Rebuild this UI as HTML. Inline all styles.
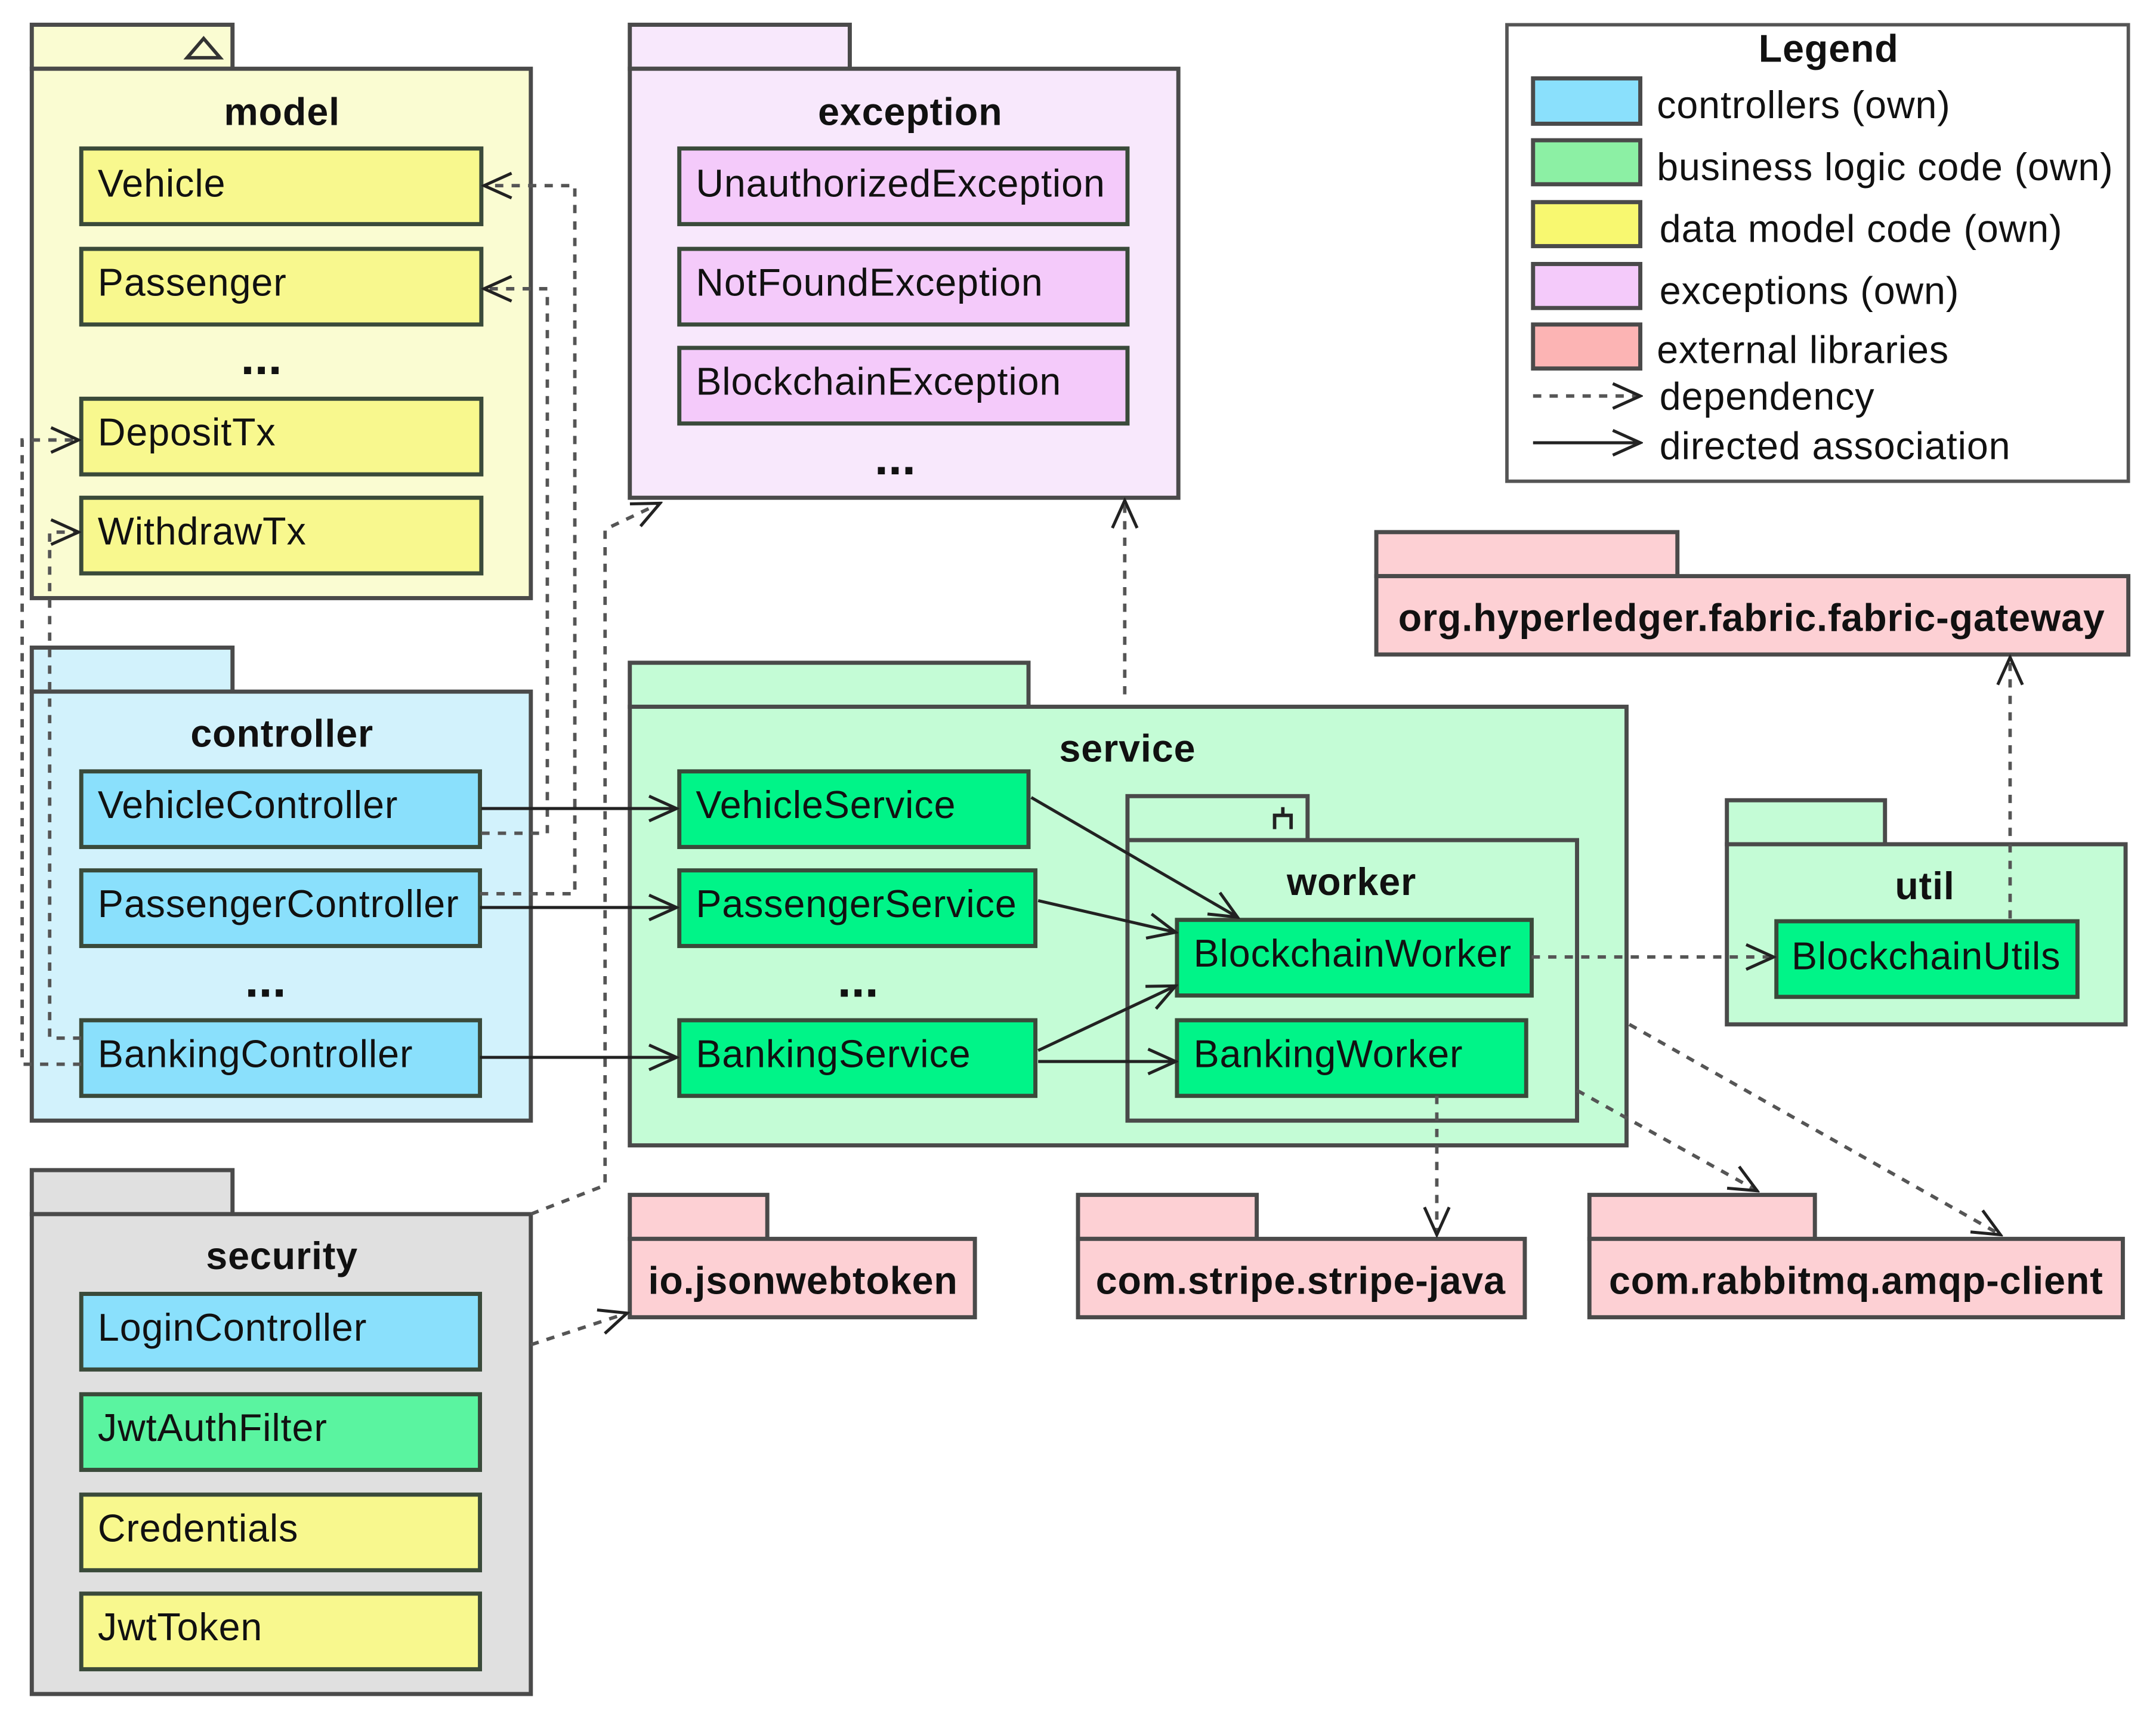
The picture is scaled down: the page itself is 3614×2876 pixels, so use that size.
<!DOCTYPE html>
<html><head><meta charset="utf-8"><style>
html,body{margin:0;padding:0;background:#fff;width:3614px;height:2876px;overflow:hidden}
svg{display:block}
text{font-family:"Liberation Sans",sans-serif;fill:#111}
.t{font-size:28px;letter-spacing:0.4px}
.b{font-size:28px;font-weight:bold;letter-spacing:0.4px}
.e{font-size:36px;font-weight:bold}
.pk{stroke:#4a4a4a;stroke-width:3}
.cl{stroke:#3a4a3a;stroke-width:3}
.d{fill:none;stroke:#555;stroke-width:2.5;stroke-dasharray:6 6}
.s{fill:none;stroke:#222;stroke-width:2.2}
</style></head><body>
<svg width="3614" height="2876" viewBox="0 0 1568 1248" xmlns="http://www.w3.org/2000/svg">
<defs>
<marker id="a" markerWidth="24" markerHeight="24" refX="22" refY="12" orient="auto" markerUnits="userSpaceOnUse">
<polyline points="2,3 22,12 2,21" fill="none" stroke="#222" stroke-width="2.2"/>
</marker>
</defs>

<!-- model -->
<rect class="pk" x="23" y="18" width="146" height="32" fill="#fafcd2"/>
<rect class="pk" x="23" y="50" width="363" height="385" fill="#fafcd2"/>
<polygon points="136,42 148,28 160,42" fill="none" stroke="#333" stroke-width="2.5"/>
<text class="b" x="205" y="91" text-anchor="middle">model</text>
<g fill="#f8f88e">
<rect class="cl" x="59" y="108" width="291" height="55"/>
<rect class="cl" x="59" y="181" width="291" height="55"/>
<rect class="cl" x="59" y="290" width="291" height="55"/>
<rect class="cl" x="59" y="362" width="291" height="55"/>
</g>
<text class="t" x="71" y="143">Vehicle</text>
<text class="t" x="71" y="215">Passenger</text>
<text class="e" x="190" y="272" text-anchor="middle">...</text>
<text class="t" x="71" y="324">DepositTx</text>
<text class="t" x="71" y="396">WithdrawTx</text>

<!-- exception -->
<rect class="pk" x="458" y="18" width="160" height="32" fill="#f8e8fc"/>
<rect class="pk" x="458" y="50" width="399" height="312" fill="#f8e8fc"/>
<text class="b" x="662" y="91" text-anchor="middle">exception</text>
<g fill="#f4cafa">
<rect class="cl" x="494" y="108" width="326" height="55"/>
<rect class="cl" x="494" y="181" width="326" height="55"/>
<rect class="cl" x="494" y="253" width="326" height="55"/>
</g>
<text class="t" x="506" y="143">UnauthorizedException</text>
<text class="t" x="506" y="215">NotFoundException</text>
<text class="t" x="506" y="287">BlockchainException</text>
<text class="e" x="651" y="345" text-anchor="middle">...</text>

<!-- legend -->
<rect x="1096" y="18" width="452" height="332" fill="#fff" stroke="#555" stroke-width="2.5"/>
<text class="b" x="1330" y="45" text-anchor="middle">Legend</text>
<rect class="pk" x="1115" y="57" width="78" height="33" fill="#8ae0fc"/>
<rect class="pk" x="1115" y="102" width="78" height="32" fill="#8cf0a4"/>
<rect class="pk" x="1115" y="147" width="78" height="32" fill="#f8f870"/>
<rect class="pk" x="1115" y="192" width="78" height="32" fill="#f4cafa"/>
<rect class="pk" x="1115" y="236" width="78" height="32" fill="#fcb4b4"/>
<text class="t" x="1205" y="86">controllers (own)</text>
<text class="t" x="1205" y="131">business logic code (own)</text>
<text class="t" x="1207" y="176">data model code (own)</text>
<text class="t" x="1207" y="221">exceptions (own)</text>
<text class="t" x="1205" y="264">external libraries</text>
<text class="t" x="1207" y="298">dependency</text>
<text class="t" x="1207" y="334">directed association</text>
<line class="d" x1="1115" y1="288" x2="1193" y2="288" marker-end="url(#a)"/>
<line class="s" x1="1115" y1="322" x2="1193" y2="322" marker-end="url(#a)"/>

<!-- fabric gateway -->
<rect class="pk" x="1001" y="387" width="219" height="32" fill="#fdd0d4"/>
<rect class="pk" x="1001" y="419" width="547" height="57" fill="#fdd0d4"/>
<text class="b" x="1274" y="459" text-anchor="middle">org.hyperledger.fabric.fabric-gateway</text>

<!-- controller -->
<rect class="pk" x="23" y="471" width="146" height="32" fill="#d2f2fc"/>
<rect class="pk" x="23" y="503" width="363" height="312" fill="#d2f2fc"/>
<text class="b" x="205" y="543" text-anchor="middle">controller</text>
<g fill="#8ae0fc">
<rect class="cl" x="59" y="561" width="290" height="55"/>
<rect class="cl" x="59" y="633" width="290" height="55"/>
<rect class="cl" x="59" y="742" width="290" height="55"/>
</g>
<text class="t" x="71" y="595">VehicleController</text>
<text class="t" x="71" y="667">PassengerController</text>
<text class="e" x="193" y="725" text-anchor="middle">...</text>
<text class="t" x="71" y="776">BankingController</text>

<!-- service -->
<rect class="pk" x="458" y="482" width="290" height="32" fill="#c4fcd6"/>
<rect class="pk" x="458" y="514" width="725" height="319" fill="#c4fcd6"/>
<text class="b" x="820" y="554" text-anchor="middle">service</text>
<g fill="#00f488">
<rect class="cl" x="494" y="561" width="254" height="55"/>
<rect class="cl" x="494" y="633" width="259" height="55"/>
<rect class="cl" x="494" y="742" width="259" height="55"/>
</g>
<text class="t" x="506" y="595">VehicleService</text>
<text class="t" x="506" y="667">PassengerService</text>
<text class="e" x="624" y="725" text-anchor="middle">...</text>
<text class="t" x="506" y="776">BankingService</text>

<!-- worker -->
<rect class="pk" x="820" y="579" width="131" height="32" fill="#c4fcd6"/>
<rect class="pk" x="820" y="611" width="327" height="204" fill="#c4fcd6"/>
<path d="M927,603 v-10 h12 v10 M933,593 v-6" fill="none" stroke="#222" stroke-width="2.5"/>
<text class="b" x="983" y="651" text-anchor="middle">worker</text>
<g fill="#00f488">
<rect class="cl" x="856" y="669" width="258" height="55"/>
<rect class="cl" x="856" y="742" width="254" height="55"/>
</g>
<text class="t" x="868" y="703">BlockchainWorker</text>
<text class="t" x="868" y="776">BankingWorker</text>

<!-- util -->
<rect class="pk" x="1256" y="582" width="115" height="32" fill="#c4fcd6"/>
<rect class="pk" x="1256" y="614" width="290" height="131" fill="#c4fcd6"/>
<text class="b" x="1400" y="654" text-anchor="middle">util</text>
<rect class="cl" x="1292" y="670" width="219" height="55" fill="#00f488"/>
<text class="t" x="1303" y="705">BlockchainUtils</text>

<!-- security -->
<rect class="pk" x="23" y="851" width="146" height="32" fill="#e0e0e0"/>
<rect class="pk" x="23" y="883" width="363" height="349" fill="#e0e0e0"/>
<text class="b" x="205" y="923" text-anchor="middle">security</text>
<rect class="cl" x="59" y="941" width="290" height="55" fill="#8ae0fc"/>
<rect class="cl" x="59" y="1014" width="290" height="55" fill="#5af4a0"/>
<rect class="cl" x="59" y="1087" width="290" height="55" fill="#f8f88e"/>
<rect class="cl" x="59" y="1159" width="290" height="55" fill="#f8f88e"/>
<text class="t" x="71" y="975">LoginController</text>
<text class="t" x="71" y="1048">JwtAuthFilter</text>
<text class="t" x="71" y="1121">Credentials</text>
<text class="t" x="71" y="1193">JwtToken</text>

<!-- externals -->
<rect class="pk" x="458" y="869" width="100" height="32" fill="#fdd0d4"/>
<rect class="pk" x="458" y="901" width="251" height="57" fill="#fdd0d4"/>
<text class="b" x="584" y="941" text-anchor="middle">io.jsonwebtoken</text>
<rect class="pk" x="784" y="869" width="130" height="32" fill="#fdd0d4"/>
<rect class="pk" x="784" y="901" width="325" height="57" fill="#fdd0d4"/>
<text class="b" x="946" y="941" text-anchor="middle">com.stripe.stripe-java</text>
<rect class="pk" x="1156" y="869" width="164" height="32" fill="#fdd0d4"/>
<rect class="pk" x="1156" y="901" width="388" height="57" fill="#fdd0d4"/>
<text class="b" x="1350" y="941" text-anchor="middle">com.rabbitmq.amqp-client</text>

<!-- connectors -->
<polyline class="d" points="350,606 398,606 398,210 352,210" marker-end="url(#a)"/>
<polyline class="d" points="349,650 418,650 418,135 352,135" marker-end="url(#a)"/>
<polyline class="d" points="59,774 16,774 16,320 57,320" marker-end="url(#a)"/>
<polyline class="d" points="59,755 36,755 36,387 57,387" marker-end="url(#a)"/>
<polyline class="d" points="386,883 440,862 440,385 480,366" marker-end="url(#a)"/>
<line class="d" x1="386" y1="978" x2="456" y2="955" marker-end="url(#a)"/>
<line class="d" x1="818" y1="505" x2="818" y2="364" marker-end="url(#a)"/>
<line class="d" x1="1114" y1="696" x2="1290" y2="696" marker-end="url(#a)"/>
<line class="d" x1="1462" y1="668" x2="1462" y2="478" marker-end="url(#a)"/>
<line class="d" x1="1045" y1="797" x2="1045" y2="898" marker-end="url(#a)"/>
<line class="d" x1="1147" y1="793" x2="1278" y2="866" marker-end="url(#a)"/>
<line class="d" x1="1185" y1="745" x2="1455" y2="898" marker-end="url(#a)"/>
<line class="s" x1="350" y1="588" x2="492" y2="588" marker-end="url(#a)"/>
<line class="s" x1="349" y1="660" x2="492" y2="660" marker-end="url(#a)"/>
<line class="s" x1="349" y1="769" x2="492" y2="769" marker-end="url(#a)"/>
<line class="s" x1="750" y1="580" x2="900" y2="667" marker-end="url(#a)"/>
<line class="s" x1="755" y1="655" x2="855" y2="678" marker-end="url(#a)"/>
<line class="s" x1="755" y1="764" x2="855" y2="717" marker-end="url(#a)"/>
<line class="s" x1="755" y1="772" x2="855" y2="772" marker-end="url(#a)"/>
</svg>
</body></html>
